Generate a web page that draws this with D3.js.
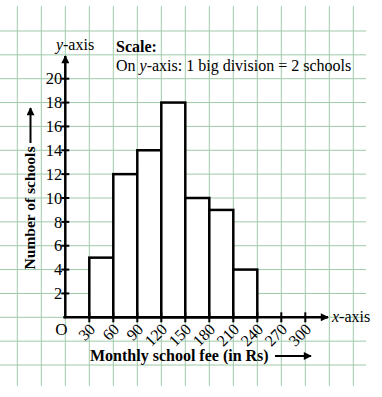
<!DOCTYPE html>
<html>
<head>
<meta charset="utf-8">
<script src="https://cdn.jsdelivr.net/npm/d3@7"></script>
<style>
  body { margin: 0; background: #fff; }
  svg { display: block; font-family: "Liberation Serif", "Times New Roman", serif; }
</style>
</head>
<body>
<div id="chart"></div>
<script>
//chart size
const width = 382;
const height = 397;

//data: fee classes (lower, upper) and number of schools
const classLower = [30, 60, 90, 120, 150, 180, 210];
const classUpper = [60, 90, 120, 150, 180, 210, 240];
const schools = [5, 12, 14, 18, 10, 9, 4];

//tick labels
const xTicks = [30, 60, 90, 120, 150, 180, 210, 240, 270, 300];
const yTicks = [2, 4, 6, 8, 10, 12, 14, 16, 18, 20];

//graph paper lines (in data units)
const gridX = d3.range(-60, 361, 30);
const gridY = d3.range(-4, 25, 2);

const svg = d3.select("#chart")
  .append("svg")
  .attr("width", width)
  .attr("height", height);

//scales: 30 Rs = one big square, 2 schools = one big square
const x = d3.scaleLinear().domain([0, 300]).range([65.3, 305.3]);
const y = d3.scaleLinear().domain([0, 20]).range([317.3, 78.7]);

//graph paper
const gridColor = "#9fcaa9";
svg.append("g")
  .selectAll("line")
  .data(gridX)
  .enter()
  .append("line")
  .attr("x1", d => x(d))
  .attr("x2", d => x(d))
  .attr("y1", 6)
  .attr("y2", 386)
  .attr("stroke", gridColor)
  .attr("stroke-width", 1);

svg.append("g")
  .selectAll("line")
  .data(gridY)
  .enter()
  .append("line")
  .attr("x1", 0)
  .attr("x2", 366)
  .attr("y1", d => y(d))
  .attr("y2", d => y(d))
  .attr("stroke", gridColor)
  .attr("stroke-width", 1);

//bars of the histogram
svg.append("g")
  .selectAll("rect")
  .data(schools)
  .enter()
  .append("rect")
  .attr("x", (d, i) => x(classLower[i]))
  .attr("y", d => y(d))
  .attr("width", (d, i) => x(classUpper[i]) - x(classLower[i]))
  .attr("height", d => y(0) - y(d))
  .attr("fill", "#fff")
  .attr("stroke", "#000")
  .attr("stroke-width", 2.5);

//arrow head marker
const defs = svg.append("defs");
defs.append("marker")
  .attr("id", "head")
  .attr("viewBox", "0 0 10 10")
  .attr("refX", 9)
  .attr("refY", 5)
  .attr("markerWidth", 10)
  .attr("markerHeight", 8)
  .attr("markerUnits", "userSpaceOnUse")
  .attr("orient", "auto")
  .append("path")
  .attr("d", "M0,0 L10,5 L0,10 Z")
  .attr("fill", "#000");

//x axis with arrow
svg.append("line")
  .attr("x1", x(0) - 2)
  .attr("x2", 328)
  .attr("y1", y(0))
  .attr("y2", y(0))
  .attr("stroke", "#000")
  .attr("stroke-width", 2.5)
  .attr("marker-end", "url(#head)");

//y axis with arrow
svg.append("line")
  .attr("x1", x(0))
  .attr("x2", x(0))
  .attr("y1", y(0) + 1)
  .attr("y2", 56)
  .attr("stroke", "#000")
  .attr("stroke-width", 2.5)
  .attr("marker-end", "url(#head)");

//x ticks
svg.append("g")
  .selectAll("line")
  .data(xTicks)
  .enter()
  .append("line")
  .attr("x1", d => x(d))
  .attr("x2", d => x(d))
  .attr("y1", y(0) - 5)
  .attr("y2", y(0) + 5)
  .attr("stroke", "#000")
  .attr("stroke-width", 2);

//x tick labels, slanted
svg.append("g")
  .selectAll("text")
  .data(xTicks)
  .enter()
  .append("text")
  .attr("transform", d => `translate(${x(d) + 3},${y(0) + 9}) rotate(-45)`)
  .attr("text-anchor", "end")
  .attr("dy", "0.35em")
  .attr("font-size", "16px")
  .text(d => d);

//origin
svg.append("text")
  .attr("x", x(0) - 4)
  .attr("y", y(0) + 18)
  .attr("text-anchor", "middle")
  .attr("font-size", "17px")
  .text("O");

//y ticks
svg.append("g")
  .selectAll("line")
  .data(yTicks)
  .enter()
  .append("line")
  .attr("x1", x(0) - 4)
  .attr("x2", x(0) + 4)
  .attr("y1", d => y(d))
  .attr("y2", d => y(d))
  .attr("stroke", "#000")
  .attr("stroke-width", 2);

//y tick labels
svg.append("g")
  .selectAll("text")
  .data(yTicks)
  .enter()
  .append("text")
  .attr("x", x(0) - 3)
  .attr("y", d => y(d))
  .attr("dy", "0.35em")
  .attr("text-anchor", "end")
  .attr("font-size", "16.5px")
  .text(d => d);

//axis names
const yName = svg.append("text")
  .attr("x", 75)
  .attr("y", 50)
  .attr("text-anchor", "middle")
  .attr("font-size", "16px");
yName.append("tspan").attr("font-style", "italic").text("y");
yName.append("tspan").text("-axis");

const xName = svg.append("text")
  .attr("x", 332)
  .attr("y", y(0) + 5)
  .attr("font-size", "16px");
xName.append("tspan").attr("font-style", "italic").text("x");
xName.append("tspan").text("-axis");

//scale note
svg.append("text")
  .attr("x", 116)
  .attr("y", 52)
  .attr("font-size", "16px")
  .attr("font-weight", "bold")
  .text("Scale:");

const note = svg.append("text")
  .attr("x", 116)
  .attr("y", 71)
  .attr("font-size", "16px");
note.append("tspan").text("On ");
note.append("tspan").attr("font-style", "italic").text("y");
note.append("tspan").text("-axis: 1 big division = 2 schools");

//x axis title with arrow
svg.append("text")
  .attr("x", 90)
  .attr("y", 361)
  .attr("font-size", "16px")
  .attr("font-weight", "bold")
  .text("Monthly school fee (in Rs)");

svg.append("line")
  .attr("x1", 275)
  .attr("x2", 311)
  .attr("y1", 356)
  .attr("y2", 356)
  .attr("stroke", "#000")
  .attr("stroke-width", 2)
  .attr("marker-end", "url(#head)");

//y axis title with arrow
svg.append("text")
  .attr("transform", "translate(35,208) rotate(-90)")
  .attr("text-anchor", "middle")
  .attr("font-size", "15.5px")
  .attr("font-weight", "bold")
  .text("Number of schools");

svg.append("line")
  .attr("x1", 30.5)
  .attr("x2", 30.5)
  .attr("y1", 143)
  .attr("y2", 108)
  .attr("stroke", "#000")
  .attr("stroke-width", 2)
  .attr("marker-end", "url(#head)");
</script>
</body>
</html>
